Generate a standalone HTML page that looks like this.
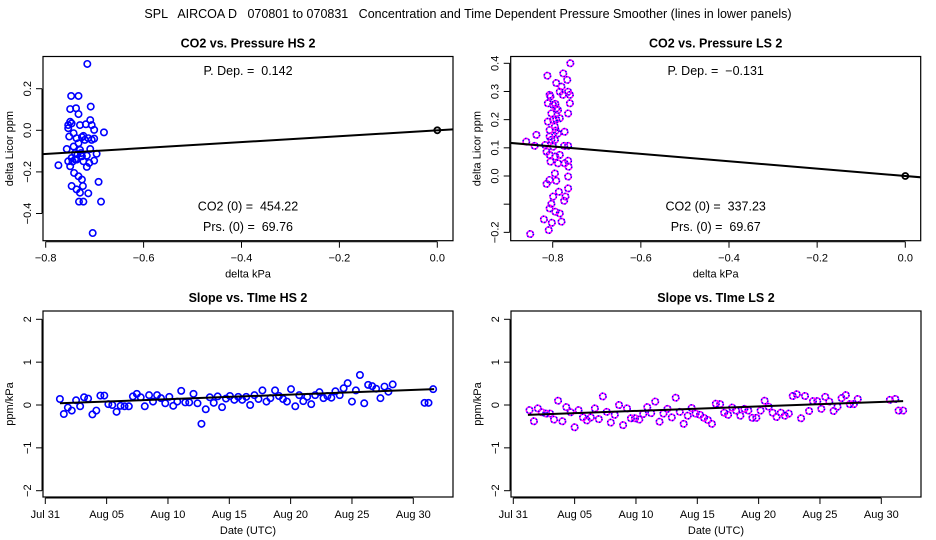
<!DOCTYPE html>
<html><head><meta charset="utf-8">
<style>
html,body{margin:0;padding:0;background:#fff;}
svg{display:block;font-family:"Liberation Sans",sans-serif;}
svg text{white-space:pre;}
</style></head>
<body>
<svg id="chart" width="936" height="540" viewBox="0 0 936 540" xmlns="http://www.w3.org/2000/svg">
<text x="468" y="18" text-anchor="middle" font-size="12.5" xml:space="preserve">SPL   AIRCOA D   070801 to 070831   Concentration and Time Dependent Pressure Smoother (lines in lower panels)</text>
</svg>
<script>
// ---- Panel 1: CO2 vs Pressure HS 2 ----
const hsPresX = [-0.715,-0.748,-0.733,-0.750,-0.738,-0.733,-0.708,-0.709,-0.750,-0.747,-0.754,-0.730,-0.718,-0.706,-0.701,-0.754,-0.743,-0.723,-0.713,-0.701,-0.681,-0.752,-0.737,-0.726,-0.720,-0.706,-0.733,-0.743,-0.757,-0.730,-0.709,-0.740,-0.716,-0.696,-0.726,-0.747,-0.737,-0.754,-0.723,-0.701,-0.711,-0.774,-0.750,-0.716,-0.742,-0.733,-0.726,-0.692,-0.747,-0.724,-0.737,-0.730,-0.713,-0.732,-0.723,-0.687,-0.704,-0.745,-0.740,-0.735,-0.728];
const hsPresY = [0.319,0.165,0.165,0.102,0.106,0.078,0.114,0.049,0.041,0.033,0.025,0.025,0.029,0.025,0.002,0.010,-0.014,-0.027,-0.038,-0.040,-0.010,-0.030,-0.038,-0.033,-0.046,-0.046,-0.062,-0.078,-0.090,-0.094,-0.090,-0.110,-0.122,-0.113,-0.125,-0.133,-0.141,-0.149,-0.149,-0.146,-0.157,-0.168,-0.173,-0.176,-0.205,-0.221,-0.237,-0.248,-0.268,-0.268,-0.284,-0.300,-0.303,-0.343,-0.343,-0.343,-0.494,-0.150,-0.140,-0.115,-0.110];
const hsPDep = 0.142;
const hsXTicks = [-0.8,-0.6,-0.4,-0.2,0.0];
const hsXTickLabels = ["\u22120.8","\u22120.6","\u22120.4","\u22120.2","0.0"];
const hsYTicks = [0.2,0.0,-0.2,-0.4];
const hsYTickLabels = ["0.2","0.0","\u22120.2","\u22120.4"];
// ---- Panel 2: CO2 vs Pressure LS 2 ----
const lsPresX = [-0.760,-0.812,-0.776,-0.767,-0.780,-0.765,-0.805,-0.784,-0.807,-0.761,-0.794,-0.799,-0.792,-0.811,-0.788,-0.803,-0.761,-0.765,-0.784,-0.811,-0.799,-0.792,-0.807,-0.795,-0.773,-0.788,-0.807,-0.803,-0.795,-0.837,-0.860,-0.841,-0.817,-0.799,-0.774,-0.765,-0.814,-0.807,-0.794,-0.784,-0.805,-0.788,-0.773,-0.765,-0.764,-0.765,-0.795,-0.807,-0.792,-0.814,-0.765,-0.786,-0.771,-0.774,-0.799,-0.803,-0.807,-0.794,-0.784,-0.820,-0.802,-0.780,-0.809,-0.851,-0.793,-0.792,-0.777];
const lsPresY = [0.400,0.356,0.364,0.341,0.317,0.299,0.282,0.299,0.288,0.288,0.256,0.252,0.240,0.258,0.234,0.222,0.258,0.222,0.205,0.193,0.199,0.201,0.163,0.175,0.157,0.151,0.140,0.128,0.128,0.146,0.122,0.107,0.110,0.104,0.107,0.107,0.086,0.075,0.069,0.075,0.051,0.045,0.045,0.054,0.033,-0.002,0.009,-0.014,-0.017,-0.028,-0.044,-0.056,-0.073,-0.088,-0.073,-0.099,-0.115,-0.127,-0.133,-0.154,-0.166,-0.162,-0.192,-0.206,0.161,0.330,0.288];
const lsPDep = -0.131;
const lsXTicks = [-0.8,-0.6,-0.4,-0.2,0.0];
const lsXTickLabels = ["\u22120.8","\u22120.6","\u22120.4","\u22120.2","0.0"];
const lsYTicks = [0.4,0.3,0.2,0.1,0.0,-0.1,-0.2];
const lsYTickLabels = ["0.4","0.3","0.2","0.1","0.0","","\u22120.2"];
// ---- Panel 3: Slope vs Time HS 2 (days since Jul 31 00:00) ----
const hsDays = [1.19,1.51,1.84,2.16,2.51,2.84,3.16,3.49,3.84,4.16,4.49,4.81,5.14,5.46,5.81,6.14,6.46,6.81,7.14,7.46,7.78,8.11,8.46,8.78,9.11,9.43,9.78,10.11,10.43,10.76,11.08,11.41,11.73,12.08,12.41,12.73,13.08,13.41,13.73,14.05,14.41,14.73,15.05,15.41,15.73,16.05,16.38,16.70,17.05,17.38,17.70,18.03,18.35,18.73,19.05,19.38,19.70,20.03,20.38,20.70,21.03,21.35,21.68,22.00,22.35,22.68,23.00,23.32,23.65,24.00,24.32,24.65,25.00,25.32,25.65,26.00,26.32,26.65,26.97,27.32,27.65,27.97,28.32,30.92,31.24,31.62];
const hsSlope = [0.14,-0.21,-0.06,-0.13,0.11,-0.03,0.18,0.15,-0.22,-0.13,0.22,0.22,0.02,0.00,-0.16,-0.02,-0.03,-0.03,0.20,0.26,0.18,-0.03,0.23,0.08,0.23,0.16,0.04,0.19,-0.02,0.08,0.33,0.06,0.06,0.26,0.04,-0.44,-0.10,0.18,0.05,0.20,-0.05,0.15,0.21,0.12,0.19,0.12,0.19,0.00,0.23,0.14,0.34,0.08,0.16,0.34,0.21,0.14,0.08,0.37,-0.03,0.23,0.09,0.19,0.02,0.23,0.30,0.16,0.21,0.17,0.32,0.23,0.39,0.51,0.08,0.34,0.70,0.04,0.47,0.44,0.38,0.16,0.43,0.31,0.48,0.05,0.05,0.37];
const hsSmoothDays = [1.19,31.7];
const hsSmoothVals = [0.04,0.37];
// ---- Panel 4: Slope vs Time LS 2 ----
const lsDays = [1.32,1.68,2.00,2.32,2.68,3.00,3.32,3.65,4.00,4.32,4.68,5.00,5.32,5.68,6.00,6.32,6.65,6.97,7.30,7.62,7.95,8.27,8.62,8.95,9.27,9.59,9.92,10.27,10.59,10.92,11.24,11.57,11.92,12.24,12.57,12.92,13.24,13.57,13.89,14.22,14.54,14.86,15.22,15.54,15.86,16.19,16.51,16.86,17.19,17.51,17.84,18.16,18.51,18.84,19.16,19.49,19.81,20.16,20.49,20.81,21.14,21.46,21.81,22.14,22.46,22.78,23.11,23.46,23.78,24.11,24.43,24.78,25.11,25.43,25.76,26.11,26.43,26.76,27.11,27.43,27.76,28.08,30.70,31.14,31.41,31.78];
const lsSlope = [-0.12,-0.38,-0.08,-0.17,-0.20,-0.20,-0.34,0.10,-0.38,-0.05,-0.17,-0.52,-0.12,-0.29,-0.36,-0.29,-0.08,-0.33,0.20,-0.16,-0.41,-0.23,0.00,-0.47,-0.08,-0.31,-0.31,-0.34,-0.21,-0.05,-0.19,0.08,-0.39,-0.20,-0.09,-0.29,0.17,-0.16,-0.44,-0.25,-0.07,-0.20,-0.23,-0.30,-0.35,-0.44,0.03,0.02,-0.18,-0.23,-0.06,-0.13,-0.25,-0.09,-0.13,-0.30,-0.30,-0.13,0.10,-0.04,-0.18,-0.28,-0.18,-0.25,-0.20,0.21,0.25,-0.31,0.21,-0.14,0.09,0.09,-0.09,0.19,0.08,-0.14,-0.04,0.16,0.23,0.02,0.02,0.14,0.12,0.14,-0.13,-0.13];
const lsSmoothDays = [1.19,31.78];
const lsSmoothVals = [-0.23,0.09];
// ---- shared time axis ----
const timeTicks = [0,5,10,15,20,25,30];
const timeTickLabels = ["Jul 31","Aug 05","Aug 10","Aug 15","Aug 20","Aug 25","Aug 30"];
const slopeYTicks = [2,1,0,-1,-2];
const slopeYTickLabels = ["2","1","0","\u22121","\u22122"];

const svg = document.getElementById('chart');
const NS = 'http://www.w3.org/2000/svg';
function mk(tag, attrs, parent) {
  const e = document.createElementNS(NS, tag);
  for (const k in attrs) e.setAttribute(k, attrs[k]);
  (parent || svg).appendChild(e);
  return e;
}
function lin(d0, d1, r0, r1) { return v => r0 + (v - d0) * (r1 - r0) / (d1 - d0); }

function panel(cfg) {
  const g = mk('g', {});
  
  
  const L = cfg.box[0], T = cfg.box[1], R = cfg.box[2], B = cfg.box[3];
  const t = mk('text', {x: (L + R) / 2, y: T - 9, 'text-anchor': 'middle', 'font-size': '12.5', 'font-weight': 'bold'}, g);
  t.textContent = cfg.title;
  
  
  const cid = 'clip' + cfg.id;
  const cp = mk('clipPath', {id: cid}, g);
  mk('rect', {x: L, y: T, width: R - L, height: B - T}, cp);
  const plot = mk('g', {'clip-path': 'url(#' + cid + ')'}, g);
  
  
  const xa = mk('g', {}, g);
  
  
  const xs = cfg.xScale, ys = cfg.yScale;
  const xp0 = xs(cfg.xTicks[0]), xp1 = xs(cfg.xTicks[cfg.xTicks.length - 1]);
  mk('line', {x1: xp0, x2: xp1, y1: B + 1, y2: B + 1, stroke: '#000', 'stroke-width': 1}, xa);
  cfg.xTicks.forEach((v, i) => {
    const x = xs(v);
    mk('line', {x1: x, x2: x, y1: B + 1, y2: B + 7, stroke: '#000', 'stroke-width': 1}, xa);
    const tl = mk('text', {x: x, y: B + 21, 'text-anchor': 'middle', 'font-size': '11'}, xa);
    tl.textContent = cfg.xTickLabels[i];
    
    
  });
  const xt = mk('text', {x: (L + R) / 2, y: B + 37, 'text-anchor': 'middle', 'font-size': '11'}, xa);
  xt.textContent = cfg.xTitle;
  
  
  const ya = mk('g', {}, g);
  
  
  const yp0 = ys(cfg.yTicks[0]), yp1 = ys(cfg.yTicks[cfg.yTicks.length - 1]);
  mk('line', {x1: L - 1, x2: L - 1, y1: yp0, y2: yp1, stroke: '#000', 'stroke-width': 1}, ya);
  cfg.yTicks.forEach((v, i) => {
    const y = ys(v);
    mk('line', {x1: L - 7, x2: L - 1, y1: y, y2: y, stroke: '#000', 'stroke-width': 1}, ya);
    const tl = mk('text', {x: 0, y: 0, 'text-anchor': 'middle', 'font-size': '11', transform: 'translate(' + (L - 12) + ',' + y + ') rotate(-90)'}, ya);
    tl.textContent = cfg.yTickLabels[i];
    
    
  });
  const yt = mk('text', {x: 0, y: 0, 'text-anchor': 'middle', 'font-size': '11', transform: 'translate(' + (L - 30) + ',' + ((T + B) / 2) + ') rotate(-90)'}, ya);
  yt.textContent = cfg.yTitle;
  
  
  cfg.px.forEach((v, i) => {
    const cx = xs(v), cy = ys(cfg.py[i]);
    const c = mk('circle', {cx: cx, cy: cy, r: 3.2, fill: 'none', stroke: cfg.color, 'stroke-width': 1.6}, plot);
    
    
    if (cfg.dot) {
      const c2 = mk('circle', {cx: cx, cy: cy, r: 3.2, fill: 'none', stroke: '#00f', 'stroke-width': 1.6, 'stroke-dasharray': '1.2 2.2'}, plot);
      
      
    }
  });
  const ln = mk('line', {x1: xs(cfg.lx[0]), y1: ys(cfg.ly[0]), x2: xs(cfg.lx[1]), y2: ys(cfg.ly[1]), stroke: '#000', 'stroke-width': 2}, plot);
  
  
  if (cfg.origin) {
    const o = mk('circle', {cx: xs(0), cy: ys(0), r: 3, fill: 'none', stroke: '#000', 'stroke-width': 1.8}, plot);
    
    
  }
  const bx = mk('rect', {x: L, y: T, width: R - L, height: B - T, fill: 'none', stroke: '#000', 'stroke-width': 1.2}, g);
  
  
  (cfg.notes || []).forEach(n => {
    const a = mk('text', {x: (L + R) / 2, y: n[1], 'text-anchor': 'middle', 'font-size': '12.5'}, g);
    a.textContent = n[0];
    
    
  });
}

{
  const xs = lin(-0.8, 0.0, 45.7, 437.3);
  const ys = lin(0.0, 0.2, 130.3, 88.7);
  panel({id: 1, name: 'panel-co2-pressure-hs', title: 'CO2 vs. Pressure HS 2', box: [43, 56.5, 453, 240.7],
    xScale: xs, yScale: ys, xTicks: hsXTicks, xTickLabels: hsXTickLabels, yTicks: hsYTicks, yTickLabels: hsYTickLabels,
    xTitle: 'delta kPa', yTitle: 'delta Licor ppm', px: hsPresX, py: hsPresY, color: '#0000ff',
    lx: [-0.9, 0.1], ly: [-0.9 * hsPDep, 0.1 * hsPDep], lineName: 'pressure-fit-line', origin: true,
    notes: [['P. Dep. =  ' + hsPDep.toFixed(3), 75, 'p-dep-label'], ['CO2 (0) =  454.22', 210.5, 'co2-zero-label'], ['Prs. (0) =  69.76', 231, 'prs-zero-label']]});
}
{
  const xs = lin(-0.8, 0.0, 552.7, 905.3);
  const ys = lin(0.0, 0.4, 176, 63.3);
  panel({id: 2, name: 'panel-co2-pressure-ls', title: 'CO2 vs. Pressure LS 2', box: [510.7, 56.5, 920.7, 240.7],
    xScale: xs, yScale: ys, xTicks: lsXTicks, xTickLabels: lsXTickLabels, yTicks: lsYTicks, yTickLabels: lsYTickLabels,
    xTitle: 'delta kPa', yTitle: 'delta Licor ppm', px: lsPresX, py: lsPresY, color: '#ff00ff', dot: true,
    lx: [-1.0, 0.1], ly: [-1.0 * lsPDep, 0.1 * lsPDep], lineName: 'pressure-fit-line', origin: true,
    notes: [['P. Dep. =  ' + lsPDep.toFixed(3).replace('-', '\u2212'), 75, 'p-dep-label'], ['CO2 (0) =  337.23', 210.5, 'co2-zero-label'], ['Prs. (0) =  69.67', 231, 'prs-zero-label']]});
}
{
  const xs = lin(0, 30, 45.3, 413.3);
  const ys = lin(0, 2, 405, 319.3);
  panel({id: 3, name: 'panel-slope-time-hs', title: 'Slope vs. TIme HS 2', box: [43, 311, 453, 497],
    xScale: xs, yScale: ys, xTicks: timeTicks, xTickLabels: timeTickLabels, yTicks: slopeYTicks, yTickLabels: slopeYTickLabels,
    xTitle: 'Date (UTC)', yTitle: 'ppm/kPa', px: hsDays, py: hsSlope, color: '#0000ff',
    lx: hsSmoothDays, ly: hsSmoothVals, lineName: 'smoother-line'});
}
{
  const xs = lin(0, 30, 513.3, 881.3);
  const ys = lin(0, 2, 405, 319.3);
  panel({id: 4, name: 'panel-slope-time-ls', title: 'Slope vs. TIme LS 2', box: [511, 311, 921, 497],
    xScale: xs, yScale: ys, xTicks: timeTicks, xTickLabels: timeTickLabels, yTicks: slopeYTicks, yTickLabels: slopeYTickLabels,
    xTitle: 'Date (UTC)', yTitle: 'ppm/kPa', px: lsDays, py: lsSlope, color: '#ff00ff', dot: true,
    lx: lsSmoothDays, ly: lsSmoothVals, lineName: 'smoother-line'});
}
</script>
</body></html>
